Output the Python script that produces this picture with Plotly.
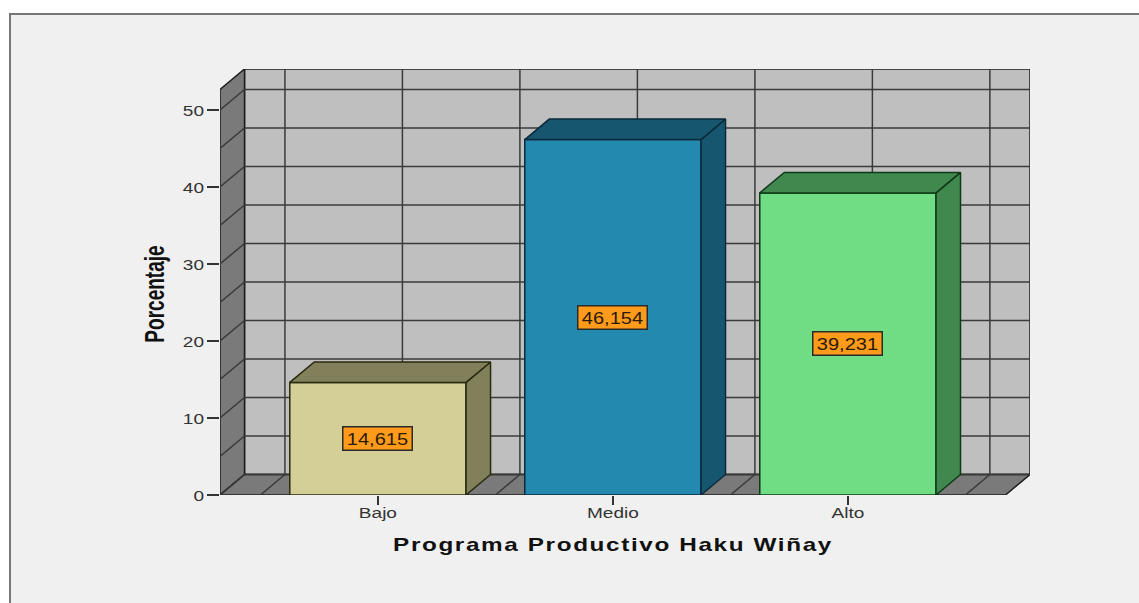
import plotly.graph_objects as go

categories = ["Bajo", "Medio", "Alto"]
positions = [0, 1, 2]
values = [14.615, 46.154, 39.231]
front_colors = ["#D3CF96", "#2389AE", "#70DC84"]
side_colors = ["#82805A", "#17566F", "#41884F"]
edge_colors = ["#2A2A10", "#0C2A3C", "#0F3A18"]
y_ticks = [0, 10, 20, 30, 40, 50]
grid_levels = [5 * i for i in range(0, 11)]
grid_columns = [-0.5, 0, 0.5, 1, 1.5, 2, 2.5]

W, H = 1139, 603
L, R, T, B = 220, 1030, 69, 495
X_MIN, X_MAX = -0.672, 2.775
Y_MIN, Y_MAX = 0, 55.32
DX, DY = 0.1043, 2.66
BAR_W = 0.75
FRONT_RIGHT = X_MAX - DX
TOP = Y_MAX - DY
GRID = "#3A3A3A"
WALL_EDGE = "#1E1E1E"


def px(x):
    return (x - L) / (R - L)


def py(y):
    return (B - y) / (B - T)


def poly(points):
    return "M " + " L ".join(f"{a},{b}" for a, b in points) + " Z"


shapes = [
    dict(type="rect", xref="paper", yref="paper", x0=px(10), x1=px(W + 10), y0=py(14), y1=py(H + 10),
         fillcolor="#F0F0F0", line=dict(color="#777777", width=2), layer="below"),
    dict(type="path", path=poly([(X_MIN + DX, DY), (X_MAX, DY), (X_MAX, Y_MAX), (X_MIN + DX, Y_MAX)]),
         fillcolor="#BFBFBF", line=dict(color=WALL_EDGE, width=1.5), layer="below"),
    dict(type="path", path=poly([(X_MIN, 0), (X_MIN + DX, DY), (X_MIN + DX, Y_MAX), (X_MIN, TOP)]),
         fillcolor="#7A7A7A", line=dict(color=WALL_EDGE, width=1.5), layer="below"),
    dict(type="path", path=poly([(X_MIN, 0), (FRONT_RIGHT, 0), (X_MAX, DY), (X_MIN + DX, DY)]),
         fillcolor="#7A7A7A", line=dict(color=WALL_EDGE, width=1.5), layer="below"),
]
for level in grid_levels:
    shapes.append(dict(type="line", x0=X_MIN + DX, x1=X_MAX, y0=level + DY, y1=level + DY,
                       line=dict(color=GRID, width=1.5), layer="below"))
    shapes.append(dict(type="line", x0=X_MIN, x1=X_MIN + DX, y0=level, y1=level + DY,
                       line=dict(color=GRID, width=1.5), layer="below"))
for col in grid_columns:
    shapes.append(dict(type="line", x0=col + DX, x1=col + DX, y0=DY, y1=Y_MAX,
                       line=dict(color=GRID, width=1.5), layer="below"))
    shapes.append(dict(type="line", x0=col, x1=col + DX, y0=0, y1=DY,
                       line=dict(color=GRID, width=1.5), layer="below"))

fig = go.Figure()
fig.add_trace(go.Bar(
    x=positions, y=values, width=BAR_W,
    marker=dict(color=front_colors, line=dict(color=edge_colors, width=1.5)),
    showlegend=False, hoverinfo="skip",
))
for pos, val, side, edge in zip(positions, values, side_colors, edge_colors):
    left, right = pos - BAR_W / 2, pos + BAR_W / 2
    fig.add_trace(go.Scatter(
        x=[right, right + DX, right + DX, right, right],
        y=[0, DY, val + DY, val, 0],
        mode="lines", fill="toself", fillcolor=side, line=dict(color=edge, width=1.5),
        showlegend=False, hoverinfo="skip",
    ))
    fig.add_trace(go.Scatter(
        x=[left, left + DX, right + DX, right, left],
        y=[val, val + DY, val + DY, val, val],
        mode="lines", fill="toself", fillcolor=side, line=dict(color=edge, width=1.5),
        showlegend=False, hoverinfo="skip",
    ))

annotations = [
    dict(x=pos, y=val / 2, xref="x", yref="y", showarrow=False,
         text=f"{val:.3f}".replace(".", ","),
         font=dict(family="Liberation Sans", size=16, color="#2A1A08"),
         bgcolor="#FF9A1A", bordercolor="#2A2A2A", borderwidth=1.5, width=66, height=20)
    for pos, val in zip(positions, values)
]

fig.update_layout(
    width=W, height=H, autosize=False,
    margin=dict(l=L, r=W - R, t=T, b=H - B),
    paper_bgcolor="#FFFFFF", plot_bgcolor="rgba(0,0,0,0)",
    shapes=shapes, annotations=annotations, showlegend=False,
    xaxis=dict(
        range=[X_MIN, X_MAX], tickmode="array", tickvals=positions, ticktext=categories,
        showgrid=False, zeroline=False, showline=False,
        ticks="outside", ticklen=9, tickwidth=1.5, tickcolor="#333333",
        tickfont=dict(family="Liberation Sans", size=15, color="#333333"),
        title=dict(text="Programa Productivo Haku Wiñay", standoff=14,
                   font=dict(family="Liberation Sans", size=18, weight="bold", color="#111111")),
    ),
    yaxis=dict(
        range=[Y_MIN, Y_MAX], tickmode="array", tickvals=y_ticks,
        showgrid=False, zeroline=False, showline=False,
        ticks="outside", ticklen=12, tickwidth=1.5, tickcolor="#333333",
        tickfont=dict(family="Liberation Sans", size=15, color="#333333"),
        title=dict(text="Porcentaje", standoff=12,
                   font=dict(family="Liberation Sans", size=28, weight="bold", color="#111111")),
    ),
)

post = """
document.body.style.margin = '0';
function stretch(el, sx, dx, dy) {
  var x = parseFloat(el.getAttribute('x')) || 0, y = parseFloat(el.getAttribute('y')) || 0;
  var t = el.getAttribute('transform') || '';
  el.setAttribute('transform', t + ' translate(' + (x + dx) + ',' + (y + dy) + ') scale(' + sx + ',1) translate(' + (-x) + ',' + (-y) + ')');
}
document.querySelectorAll('.xtick text').forEach(function (e) { stretch(e, 1.27, 0, -5); });
document.querySelectorAll('.ytick text').forEach(function (e) { stretch(e, 1.27, 0, 1); });
document.querySelectorAll('.annotation-text').forEach(function (e) { stretch(e, 1.25, 0, 1); });
var xt = document.querySelector('.xtitle');
xt.style.letterSpacing = '1.2px';
stretch(xt, 1.35, -12, -1);
stretch(document.querySelector('.ytitle'), 0.68, -12, -2);
"""
fig.write_html("out.html", post_script=post, config=dict(displayModeBar=False))
